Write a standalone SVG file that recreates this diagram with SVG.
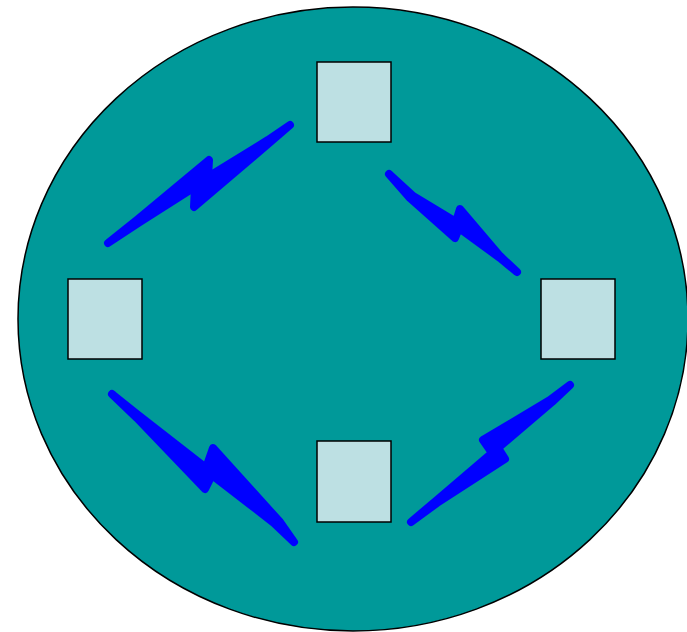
<svg xmlns="http://www.w3.org/2000/svg" width="687" height="632" viewBox="0 0 687 632">
<style>
.node rect{fill:#bde0e3;stroke:#000;stroke-width:1.5}
.bolt{fill:#0000ff;stroke:#0000ff;stroke-width:8;stroke-linejoin:round;stroke-linecap:round}
</style>
<rect width="687" height="632" fill="#fff"/>
<g id="ring">
<ellipse cx="353" cy="319" rx="335" ry="312" fill="#009999" stroke="#000" stroke-width="1.5"/>
</g>
<g id="node-top" class="node"><rect x="317" y="62" width="74" height="80"/></g>
<g id="node-left" class="node"><rect x="68" y="279" width="74" height="80"/></g>
<g id="node-right" class="node"><rect x="541" y="279" width="74" height="80"/></g>
<g id="node-bottom" class="node"><rect x="317" y="441" width="74" height="81"/></g>
<g id="connectors">
<polygon class="bolt" points="108,243 138,219 209,160 208,177 268,140 290,125 268,144 194,207 195,187 140,222"/>
<polygon class="bolt" points="389,174 413,196 456,222 460,209 500,256 517,272 500,258 459,228 455,238 410,198"/>
<polygon class="bolt" points="112,394 137,414 206,468 213,448 280,522 294,542 274,523 212,475 205,489 137,418"/>
<polygon class="bolt" points="570,385 550,400 483,440 492,453 437,500 411,522 437,503 505,459 498,448 552,402"/>
</g>
</svg>
